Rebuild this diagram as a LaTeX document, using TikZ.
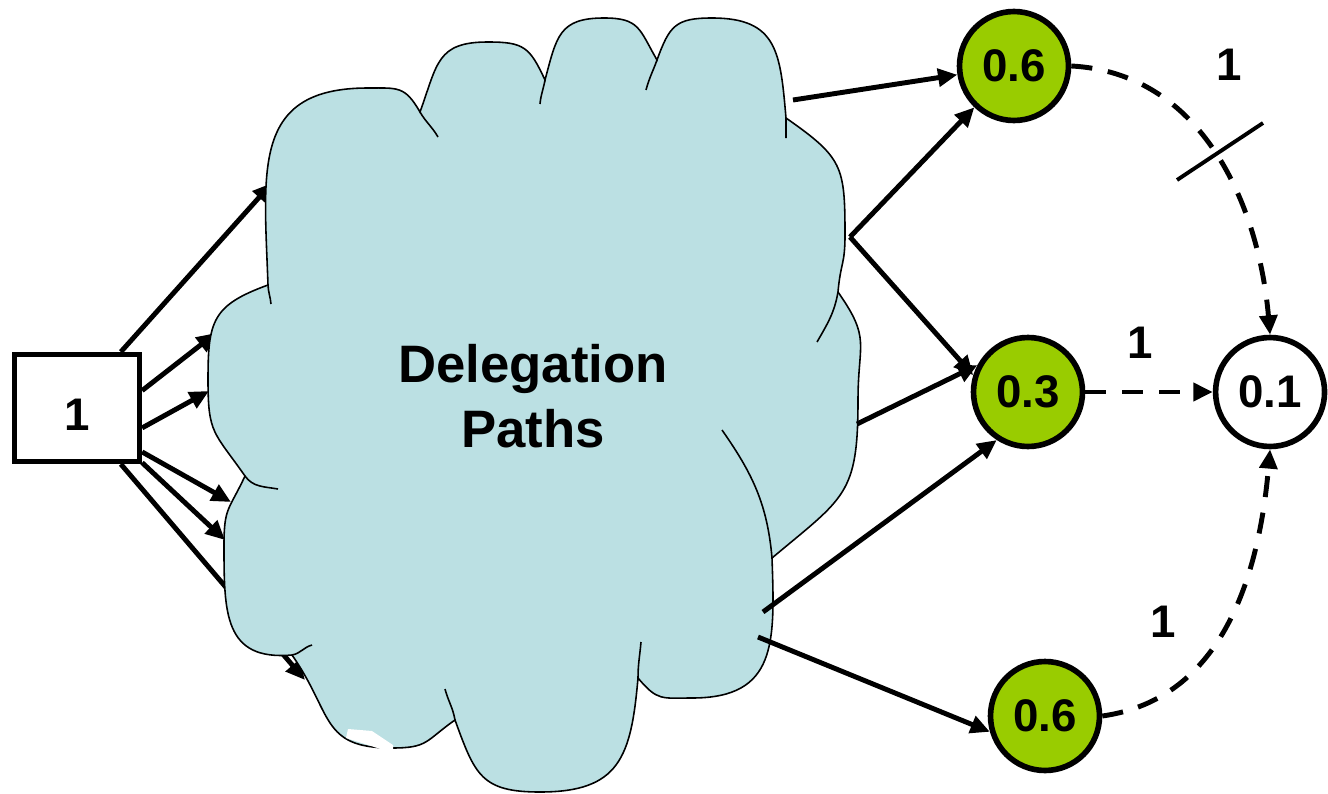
\documentclass[tikz,border=0pt]{standalone}
\usepackage{fontspec}
\setmainfont{Liberation Sans}
\usepackage{tikz}
\usetikzlibrary{arrows.meta, positioning}

\definecolor{cloudblue}{HTML}{BBE0E3}
\definecolor{leaf}{HTML}{99CC00}

\begin{document}
\begin{tikzpicture}[
        x=0.02cm, y=-0.02cm,
        source/.style={rectangle, draw, line width=3pt, fill=white, minimum width=2.5cm, minimum height=2.14cm, inner sep=0pt, text height=26pt, font=\fontsize{26}{30}\selectfont\bfseries},
        prob/.style={circle, draw, line width=3.2pt, fill=leaf, minimum size=2.18cm, inner sep=0pt, font=\fontsize{26}{30}\selectfont\bfseries},
        sink/.style={prob, fill=white},
        weight/.style={font=\fontsize{26}{30}\selectfont\bfseries},
        arrow/.style={line width=2.8pt, -{Triangle[length=11pt,width=10pt]}},
        flow/.style={arrow, dash pattern=on 12pt off 9pt},
        cloud/.style={fill=cloudblue, draw, line width=0.9pt, looseness=1.35},
        rim/.style={line width=0.9pt}
        ]
        \useasboundingbox (0,0) rectangle (1328,794);

        % Nodes
        \node (src) [source] at (77,408) {1};
        \node (top) [prob] at (1014,66) {0.6};
        \node (mid) [prob] at (1028,392) {0.3};
        \node (bot) [prob] at (1045,716) {0.6};
        \node (sink) [sink, right=2.55cm of mid] {0.1};

        % Points on the cloud rim
        \coordinate (in1) at (272,183);
        \coordinate (in2) at (216,333);
        \coordinate (in3) at (209,391);
        \coordinate (in4) at (231,502);
        \coordinate (in5) at (225,540);
        \coordinate (in6) at (305,680);
        \coordinate (out1) at (793,100);
        \coordinate (fork) at (850,237);
        \coordinate (out3) at (857,424);
        \coordinate (out4) at (763,612);
        \coordinate (out5) at (758,637);

        % Arrows into the cloud
        \draw [arrow] (src.52) -- (in1);
        \draw [arrow] (src.15) -- (in2);
        \draw [arrow] (src.-17) -- (in3);
        \draw [arrow] (src.-34) -- (in4);
        \draw [arrow] (src.-40) -- (in5);
        \draw [arrow] (src.-52) -- (in6);

        % Cloud
        \draw [cloud] (268,285)
            to[out=92,in=180] (368,88) to[out=0,in=120] (420,112)
            to[out=70,in=180] (488,42) to[out=0,in=115] (545,80)
            to[out=75,in=180] (604,18) to[out=0,in=120] (657,60)
            to[out=70,in=180] (712,18) to[out=0,in=95] (786,118)
            to[out=-35,in=90] (845,235) to[out=-90,in=85] (838,292)
            to[out=-55,in=90] (858,400) to[out=-90,in=40] (772,558)
            to[out=-88,in=0] (692,698) to[out=180,in=-50] (638,678)
            to[out=-95,in=0] (540,792) to[out=180,in=-70] (455,720)
            to[out=-145,in=0] (392,748) to[out=180,in=-55] (292,655)
            to[out=185,in=-90] (224,545) to[out=90,in=-115] (245,476)
            to[out=125,in=-90] (208,380) to[out=90,in=200] (268,285) -- cycle;
        \draw [rim]
            (268,285) to[out=-88,in=95] (271,304)
            (420,112) to[out=-60,in=120] (438,137)
            (545,80) to[out=-100,in=85] (540,104)
            (657,60) to[out=-110,in=75] (646,90)
            (786,118) -- (786,138)
            (838,292) to[out=-100,in=60] (817,342)
            (722,430) to[out=-55,in=95] (772,558)
            (638,678) to[out=90,in=-95] (641,642)
            (455,720) to[out=100,in=-75] (445,689)
            (292,655) to[out=10,in=195] (312,645)
            (245,476) to[out=-55,in=170] (278,489);
        \fill [white] (348,729) -- (372,731) -- (393,745) -- (393,753) -- (346,738) -- cycle;
        \node (paths) [font=\fontsize{30}{37}\selectfont\bfseries, align=center] at (533,396) {Delegation\\Paths};

        % Arrows out of the cloud
        \draw [arrow] (out1) -- (top);
        \draw [arrow] (fork) -- (top);
        \draw [arrow] (fork) -- (mid.163);
        \draw [arrow] (out3) -- (mid.152);
        \draw [arrow] (out4) -- (mid.-123);
        \draw [arrow] (out5) -- (bot.196);

        % Weighted flows into the sink
        \draw [flow] (top.east) to[out=-3,in=95] (sink.north);
        \draw [flow] (mid) -- (sink);
        \draw [flow] (bot.east) to[out=8,in=-95] (sink.south);
        \draw [line width=2.2pt] (1177,180) -- (1263,123);

        \node (w1) [weight] at (1229,65) {1};
        \node (w2) [weight] at (1140,343) {1};
        \node (w3) [weight] at (1163,622) {1};

    \end{tikzpicture}
\end{document}
